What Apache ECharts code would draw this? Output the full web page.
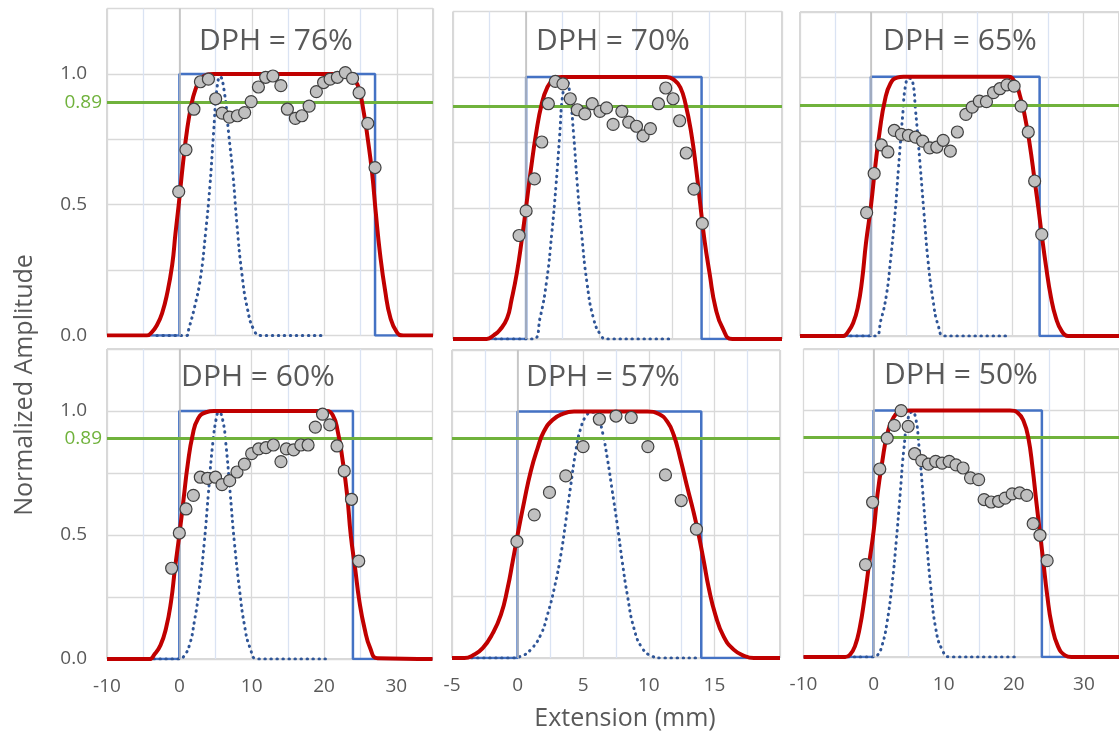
<!DOCTYPE html>
<html>
<head>
<meta charset="utf-8">
<script src="https://cdn.jsdelivr.net/npm/echarts/dist/echarts.min.js"></script>
<style>
  html, body { margin: 0; padding: 0; background: #ffffff; overflow: hidden; }
  #chart { width: 1119px; height: 733px; }
</style>
</head>
<body>
<div id="chart"></div>
<script>
// ---- panel labels and axis settings ----
const panelTitles = ['DPH = 76%', 'DPH = 70%', 'DPH = 65%', 'DPH = 60%', 'DPH = 57%', 'DPH = 50%'];
const xMin = [-10, -5, -10, -10, -5, -10];
const xMax = [35, 17.5, 35, 35, 20, 35];
const xStep = [10, 5, 10, 10, 5, 10];
const yTickLabels = ['0.0', '0.5', '1.0'];
const threshold = 0.89;

// ---- nominal rectangular profile (blue) ----
const rect76 = [[-10, 0], [0, 0], [0, 1], [27, 1], [27, 0], [35, 0]];
const rect70 = [[-5, 0], [0, 0], [0, 1], [12, 1], [12, 0], [17.5, 0]];
const rect65 = [[-10, 0], [0, 0], [0, 1], [23.8, 1], [23.8, 0], [35, 0]];
const rect60 = [[-10, 0], [0, 0], [0, 1], [24, 1], [24, 0], [35, 0]];
const rect57 = [[-5, 0], [0, 0], [0, 1], [14, 1], [14, 0], [20, 0]];
const rect50 = [[-10, 0], [0, 0], [0, 1], [24, 1], [24, 0], [35, 0]];

// ---- smoothed profile (red) ----
const model76 = [[-10, 0], [-4.5, 0], [-3.8, 0.013], [-3.1, 0.04], [-2.4, 0.085], [-1.7, 0.16], [-1.0, 0.27], [-0.55, 0.39], [-0.1, 0.5], [0.5, 0.66], [1.05, 0.785], [1.6, 0.875], [2.2, 0.94], [2.9, 0.98], [3.8, 0.997], [4.7, 1.0], [22.3, 1.0], [23.3, 0.995], [24.0, 0.98], [24.7, 0.95], [25.4, 0.86], [26.0, 0.75], [26.6, 0.62], [27.1, 0.47], [27.7, 0.31], [28.4, 0.17], [29.1, 0.07], [30.0, 0.013], [30.9, 0], [35, 0]];
const model70 = [[-5, 0], [-2.7, 0], [-2.2, 0.015], [-1.8, 0.034], [-1.3, 0.079], [-1.0, 0.149], [-0.64, 0.25], [-0.3, 0.377], [0, 0.504], [0.32, 0.644], [0.68, 0.784], [1.07, 0.898], [1.45, 0.96], [1.86, 0.99], [2.43, 1.0], [9.6, 1.0], [10.16, 0.987], [10.55, 0.96], [10.9, 0.898], [11.3, 0.784], [11.64, 0.644], [11.93, 0.504], [12.2, 0.377], [12.55, 0.25], [12.95, 0.12], [13.45, 0.04], [14.1, 0], [17.5, 0]];
const model65 = [[-10, 0], [-3.9, 0], [-3.2, 0.017], [-2.5, 0.05], [-1.85, 0.11], [-1.24, 0.216], [-0.7, 0.357], [0, 0.5], [0.6, 0.65], [1.24, 0.79], [1.98, 0.91], [2.76, 0.974], [3.7, 0.997], [4.6, 1.0], [19.4, 1.0], [20.3, 0.98], [21.0, 0.93], [21.7, 0.85], [22.4, 0.74], [23.1, 0.6], [23.6, 0.5], [24.1, 0.39], [24.7, 0.27], [25.4, 0.15], [26.1, 0.07], [26.9, 0.02], [27.8, 0], [35, 0]];
const model60 = [[-10, 0], [-4.1, 0], [-3.5, 0.016], [-2.6, 0.056], [-1.84, 0.124], [-1.15, 0.231], [-0.6, 0.366], [0, 0.5], [0.6, 0.648], [1.15, 0.782], [1.84, 0.903], [2.6, 0.97], [3.7, 0.995], [4.8, 1.0], [20.3, 1.0], [21.2, 0.984], [21.9, 0.918], [22.6, 0.796], [23.2, 0.661], [23.7, 0.5], [24.3, 0.366], [24.9, 0.231], [25.6, 0.124], [26.4, 0.043], [27.4, 0.003], [35, 0]];
const model57 = [[-5, 0], [-4.05, 0], [-3.4, 0.011], [-2.66, 0.04], [-1.9, 0.1], [-1.27, 0.176], [-0.76, 0.284], [-0.38, 0.39], [0, 0.5], [0.5, 0.635], [1.0, 0.757], [1.52, 0.851], [2.0, 0.919], [2.66, 0.966], [3.4, 0.99], [4.3, 1.0], [9.9, 1.0], [10.77, 0.99], [11.4, 0.96], [11.9, 0.905], [12.4, 0.81], [12.9, 0.7], [13.4, 0.595], [13.8, 0.5], [14.2, 0.39], [14.57, 0.284], [15.07, 0.176], [15.7, 0.088], [16.47, 0.034], [17.35, 0.007], [18.0, 0], [20, 0]];
const model50 = [[-10, 0], [-4.05, 0], [-3.36, 0.01], [-2.67, 0.043], [-1.98, 0.118], [-1.29, 0.24], [-0.6, 0.388], [0, 0.51], [0.55, 0.659], [1.24, 0.794], [1.94, 0.903], [2.86, 0.973], [4.0, 0.997], [5.2, 1.0], [19.45, 1.0], [20.6, 0.99], [21.4, 0.957], [22.07, 0.889], [22.67, 0.767], [23.2, 0.632], [23.7, 0.51], [24.2, 0.388], [24.75, 0.253], [25.4, 0.131], [26.3, 0.043], [27.3, 0.007], [28.2, 0], [35, 0]];

// ---- probe beam profile (dotted) ----
const probe76 = [[-3.1, 0], [1.0, 0], [1.3, 0.026], [2.1, 0.11], [2.9, 0.22], [3.6, 0.39], [4.2, 0.57], [4.7, 0.77], [5.2, 0.95], [5.6, 0.99], [6.2, 0.93], [6.8, 0.77], [7.4, 0.61], [7.95, 0.42], [8.6, 0.24], [9.4, 0.1], [10.3, 0.02], [11.2, 0], [20.1, 0]];
const probe70 = [[-2.1, 0], [0.5, 0], [0.95, 0.08], [1.4, 0.22], [1.75, 0.4], [2.05, 0.59], [2.3, 0.78], [2.5, 0.93], [2.77, 0.99], [3.0, 0.93], [3.25, 0.78], [3.5, 0.59], [3.8, 0.4], [4.15, 0.22], [4.6, 0.08], [5.1, 0.015], [5.5, 0], [10.0, 0]];
const probe65 = [[-3.7, 0], [0.6, 0], [1.4, 0.06], [2.2, 0.16], [2.76, 0.29], [3.36, 0.456], [3.9, 0.65], [4.47, 0.846], [4.93, 0.974], [5.4, 0.994], [5.85, 0.987], [6.3, 0.87], [6.9, 0.675], [7.5, 0.47], [8.06, 0.29], [8.76, 0.139], [9.5, 0.04], [10.4, 0], [19.7, 0]];
const probe60 = [[-3.5, 0], [0, 0], [0.6, 0.01], [1.4, 0.056], [2.07, 0.15], [2.76, 0.285], [3.46, 0.473], [4.0, 0.661], [4.6, 0.863], [5.2, 0.984], [5.5, 0.995], [6.0, 0.963], [6.45, 0.863], [7.05, 0.661], [7.6, 0.473], [8.3, 0.285], [9.0, 0.137], [9.8, 0.043], [10.8, 0], [20.3, 0]];
const probe57 = [[-3.5, 0], [-0.5, 0], [0.25, 0.007], [1.0, 0.034], [1.77, 0.095], [2.28, 0.176], [2.8, 0.284], [3.3, 0.42], [3.67, 0.554], [4.05, 0.7], [4.43, 0.838], [4.8, 0.93], [5.27, 0.986], [5.7, 0.997], [6.08, 0.986], [6.46, 0.919], [6.84, 0.81], [7.22, 0.676], [7.6, 0.54], [7.98, 0.39], [8.36, 0.257], [8.87, 0.12], [9.5, 0.04], [10.26, 0.007], [10.9, 0], [13.7, 0]];
const probe50 = [[-3.6, 0], [0, 0], [0.55, 0.007], [1.24, 0.05], [1.94, 0.145], [2.63, 0.294], [3.23, 0.47], [3.78, 0.659], [4.33, 0.848], [4.93, 0.97], [5.53, 0.995], [6.0, 0.97], [6.45, 0.862], [7.0, 0.673], [7.56, 0.47], [8.16, 0.28], [8.85, 0.118], [9.77, 0.03], [10.9, 0], [20.1, 0]];

// ---- measured amplitudes (grey circles) ----
const measured76 = [[-0.1, 0.55], [0.9, 0.71], [2.0, 0.865], [2.9, 0.97], [4.0, 0.98], [5.0, 0.905], [5.9, 0.85], [6.9, 0.835], [8.0, 0.84], [9.0, 0.852], [9.9, 0.894], [10.9, 0.95], [11.9, 0.987], [12.9, 0.992], [14.0, 0.955], [14.9, 0.865], [16.0, 0.83], [16.9, 0.84], [17.9, 0.877], [18.9, 0.932], [19.9, 0.967], [20.8, 0.98], [21.8, 0.987], [22.9, 1.005], [23.9, 0.983], [24.8, 0.928], [26.0, 0.811], [27.0, 0.642]];
const measured70 = [[-0.48, 0.395], [0, 0.489], [0.57, 0.611], [1.07, 0.752], [1.52, 0.898], [2.0, 0.983], [2.52, 0.974], [3.02, 0.917], [3.5, 0.875], [4.02, 0.859], [4.52, 0.898], [5.05, 0.869], [5.5, 0.882], [5.95, 0.819], [6.55, 0.869], [7.02, 0.828], [7.55, 0.812], [8.0, 0.775], [8.5, 0.803], [9.05, 0.898], [9.55, 0.958], [10.05, 0.917], [10.5, 0.833], [10.95, 0.71], [11.48, 0.572], [12.05, 0.441]];
const measured65 = [[-0.6, 0.476], [0.46, 0.627], [1.47, 0.737], [2.4, 0.71], [3.3, 0.793], [4.3, 0.778], [5.3, 0.774], [6.3, 0.767], [7.3, 0.752], [8.3, 0.726], [9.3, 0.729], [10.2, 0.755], [11.2, 0.713], [12.2, 0.787], [13.4, 0.855], [14.3, 0.883], [15.3, 0.906], [16.3, 0.904], [17.3, 0.939], [18.2, 0.954], [19.2, 0.969], [20.2, 0.964], [21.2, 0.887], [22.2, 0.787], [23.1, 0.598], [24.1, 0.392]];
const measured60 = [[-1.06, 0.366], [0, 0.508], [0.92, 0.605], [1.94, 0.66], [2.9, 0.733], [3.9, 0.728], [5.0, 0.733], [5.9, 0.703], [6.96, 0.719], [7.97, 0.754], [9.0, 0.786], [10.0, 0.828], [10.97, 0.847], [11.98, 0.852], [13.0, 0.863], [14.05, 0.796], [14.8, 0.847], [15.8, 0.843], [16.8, 0.863], [17.8, 0.863], [18.8, 0.935], [19.8, 0.987], [20.8, 0.944], [21.8, 0.859], [22.8, 0.758], [23.8, 0.644], [24.8, 0.395]];
const measured57 = [[-0.05, 0.473], [1.27, 0.581], [2.43, 0.672], [3.67, 0.739], [4.99, 0.858], [6.23, 0.969], [7.5, 0.982], [8.66, 0.976], [9.93, 0.858], [11.27, 0.743], [12.47, 0.639], [13.63, 0.523]];
const measured50 = [[-1.15, 0.375], [-0.14, 0.628], [0.88, 0.763], [1.94, 0.888], [2.95, 0.94], [3.92, 1.0], [4.93, 0.936], [5.85, 0.825], [6.87, 0.797], [7.83, 0.783], [8.85, 0.794], [9.77, 0.787], [10.78, 0.794], [11.75, 0.78], [12.76, 0.767], [13.82, 0.727], [14.98, 0.72], [15.76, 0.639], [16.77, 0.629], [17.83, 0.632], [18.76, 0.645], [19.77, 0.662], [20.83, 0.666], [21.84, 0.656], [22.76, 0.541], [23.73, 0.494], [24.75, 0.391]];

// ---- panel placement (pixels) ----
const gridBoxes = [
  { left: 107, top: 8.5, width: 326, height: 327 },
  { left: 453, top: 11.5, width: 329, height: 327.5 },
  { left: 800, top: 12, width: 325.5, height: 324 },
  { left: 107, top: 349, width: 325.5, height: 310 },
  { left: 452, top: 350, width: 328, height: 308 },
  { left: 803.5, top: 349, width: 326, height: 308 }
];
const titleCenters = [[276, 43], [613, 43], [960, 43], [258, 379], [603, 379], [961, 377]];

const rects = [rect76, rect70, rect65, rect60, rect57, rect50];
const models = [model76, model70, model65, model60, model57, model50];
const probes = [probe76, probe70, probe65, probe60, probe57, probe50];
const measured = [measured76, measured70, measured65, measured60, measured57, measured50];

const FONT = 'Open Sans';
const TEXT = '#595959';
const GREEN = '#70b23c';

const grids = [], xAxes = [], yAxes = [], series = [], titles = [];

for (let i = 0; i < 6; i++) {
  const leftCol = i % 3 === 0;
  const bottomRow = i >= 3;
  grids.push(Object.assign({ show: true, borderColor: '#b0b0b0', borderWidth: 1, backgroundColor: 'rgba(0,0,0,0)' }, gridBoxes[i]));
  titles.push({
    text: panelTitles[i],
    left: titleCenters[i][0],
    top: titleCenters[i][1] - 17,
    textAlign: 'center',
    padding: 0,
    textStyle: { fontFamily: FONT, fontSize: 30, fontWeight: 'normal', color: TEXT }
  });
  xAxes.push({
    gridIndex: i, type: 'value', min: xMin[i], max: xMax[i], interval: xStep[i],
    axisLine: { show: false }, axisTick: { show: false },
    axisLabel: { show: bottomRow, showMaxLabel: false, margin: 18, fontFamily: FONT, fontSize: 19, color: TEXT },
    splitLine: { show: true, lineStyle: { color: '#d9d9d9', width: 1.3 } },
    minorTick: { show: false, splitNumber: 2 },
    minorSplitLine: { show: true, lineStyle: { color: '#dae3f3', width: 1.3 } }
  });
  yAxes.push({
    gridIndex: i, type: 'value', min: 0, max: 1.25, interval: 0.25,
    axisLine: { show: false }, axisTick: { show: false },
    axisLabel: {
      show: leftCol, margin: 20, fontFamily: FONT, fontSize: 19, color: TEXT,
      formatter: function (v) {
        const s = v.toFixed(1);
        return (Math.abs(v * 2 - Math.round(v * 2)) < 1e-9 && yTickLabels.indexOf(s) >= 0) ? s : '';
      }
    },
    splitLine: { show: true, lineStyle: { color: '#d9d9d9', width: 1.3 } }
  });

  // reference lines: vertical axis at 0 and the green threshold level
  series.push({
    type: 'line', xAxisIndex: i, yAxisIndex: i, data: [], silent: true, z: 1,
    markLine: {
      silent: true, symbol: 'none', animation: false,
      data: [
        { xAxis: 0, lineStyle: { color: '#bfbfbf', width: 1.5, type: 'solid' }, label: { show: false } },
        {
          yAxis: threshold, lineStyle: { color: GREEN, width: 3, type: 'solid' },
          label: { show: leftCol, position: 'start', distance: 5, formatter: threshold.toFixed(2), color: GREEN, fontFamily: FONT, fontSize: 19 }
        }
      ]
    }
  });
  series.push({
    type: 'line', xAxisIndex: i, yAxisIndex: i, data: rects[i], symbol: 'none', z: 3,
    lineStyle: { color: '#4472c4', width: 2.5 }, animation: false
  });
  series.push({
    type: 'line', xAxisIndex: i, yAxisIndex: i, data: probes[i], symbol: 'none', z: 4,
    smooth: 0.5,
    lineStyle: { color: '#2f5597', width: 3, type: [0.5, 5.5], cap: 'round' }, animation: false
  });
  series.push({
    type: 'line', xAxisIndex: i, yAxisIndex: i, data: models[i], symbol: 'none', z: 5,
    smooth: 0.5,
    lineStyle: { color: '#c00000', width: 4 }, animation: false
  });
  series.push({
    type: 'scatter', xAxisIndex: i, yAxisIndex: i, data: measured[i], z: 6,
    symbol: 'circle', symbolSize: 12,
    itemStyle: { color: '#c0c0c0', borderColor: '#404040', borderWidth: 1.2, opacity: 1 }, animation: false
  });
}

const chart = echarts.init(document.getElementById('chart'), null, { renderer: 'canvas' });
chart.setOption({
  backgroundColor: '#ffffff',
  animation: false,
  title: titles,
  grid: grids,
  xAxis: xAxes,
  yAxis: yAxes,
  series: series,
  graphic: [
    {
      type: 'text', x: 25, y: 385, rotation: Math.PI / 2,
      style: { text: 'Normalized Amplitude', fontFamily: FONT, fontSize: 25, fill: TEXT, align: 'center', verticalAlign: 'middle', textAlign: 'center', textVerticalAlign: 'middle' }
    },
    {
      type: 'text', x: 625, y: 719,
      style: { text: 'Extension (mm)', fontFamily: FONT, fontSize: 25, fill: TEXT, align: 'center', verticalAlign: 'middle', textAlign: 'center', textVerticalAlign: 'middle' }
    }
  ]
});
</script>
</body>
</html>
